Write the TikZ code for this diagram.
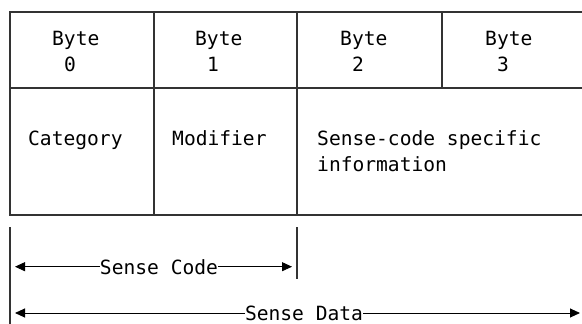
\documentclass[tikz,border=0pt]{standalone}
\usepackage{fontspec}
\setmonofont{DejaVu Sans Mono}
\usetikzlibrary{arrows.meta}
\begin{document}
\begin{tikzpicture}[x=1pt,y=-1pt]
		\tikzstyle{every node}+=[inner sep=0pt, font=\ttfamily\fontsize{19.6}{26}\selectfont]
		\tikzstyle{rule}=[line width=1.3pt, draw=black!80]
		\tikzstyle{dim}=[line width=0.9pt, -{Triangle[length=10pt,width=9pt]}]
		\useasboundingbox (0,0) rectangle (582,324);
		% table
		\draw [rule] (582,12) -- (10,12) -- (10,215) -- (582,215);
		\draw [rule] (10,88) -- (582,88);
		\draw [rule] (154,12) -- (154,215);
		\draw [rule] (297,12) -- (297,215);
		\draw [rule] (442,12) -- (442,88);
		% byte row
		\node [anchor=base west, align=left] (byte0) at (52,71) {Byte\\\hphantom{B}0};
		\node [anchor=base west, align=left] (byte1) at (195,71) {Byte\\\hphantom{B}1};
		\node [anchor=base west, align=left] (byte2) at (340,71) {Byte\\\hphantom{B}2};
		\node [anchor=base west, align=left] (byte3) at (485,71) {Byte\\\hphantom{B}3};
		% field row
		\node [anchor=base west] (category) at (28,145) {Category};
		\node [anchor=base west] (modifier) at (172,145) {Modifier};
		\node [anchor=base west, align=left] (specific) at (317,171) {Sense-code specific\\information};
		% extents
		\draw [rule] (10,227) -- (10,324);
		\draw [rule] (297,227) -- (297,279);
		\node (code) at (159,266.7) {Sense Code};
		\node (data) at (304,313) {Sense Data};
		\coordinate (codeL) at (15,266.7);
		\coordinate (codeR) at (292,266.7);
		\coordinate (dataL) at (15,313);
		\coordinate (dataR) at (580,313);
		\draw [dim] (code) -- (codeL);
		\draw [dim] (code) -- (codeR);
		\draw [dim] (data) -- (dataL);
		\draw [dim] (data) -- (dataR);
\end{tikzpicture}
\end{document}
